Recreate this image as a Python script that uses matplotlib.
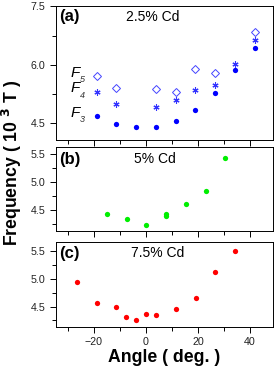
import numpy as np
import matplotlib
matplotlib.use('Agg')
import matplotlib.pyplot as plt
from matplotlib.ticker import MultipleLocator

plt.rcParams['font.family'] = ['Liberation Sans', 'DejaVu Sans']

# (a) 2.5% Cd
ang_a = [-19.0, -11.4, -3.8, 3.8, 11.4, 19.0, 26.6, 34.2, 41.8]
f3_a = [4.69, 4.47, 4.40, 4.40, 4.56, 4.83, 5.27, 5.86, 6.43]
ang_f4 = [-19.0, -11.4, 3.8, 11.4, 19.0, 26.6, 34.2, 41.8]
f4_a = [5.29, 4.98, 4.90, 5.10, 5.35, 5.48, 6.01, 6.63]
ang_f5 = [-19.0, -11.4, 3.8, 11.4, 19.0, 26.6, 41.8]
f5_a = [5.71, 5.40, 5.38, 5.31, 5.89, 5.79, 6.85]

# (b) 5% Cd
ang_b = [-15.1, -7.4, 0.0, 7.7, 7.7, 15.3, 23.0, 30.5]
f_b = [4.43, 4.34, 4.24, 4.43, 4.39, 4.61, 4.84, 5.42]

# (c) 7.5% Cd
ang_c = [-26.5, -19.0, -11.4, -7.6, -3.7, 0.0, 3.8, 11.4, 19.1, 26.7, 34.3]
f_c = [4.95, 4.57, 4.50, 4.32, 4.26, 4.36, 4.34, 4.45, 4.66, 5.12, 5.51]

# F labels in panel a
f_names = ['5', '4', '3']
f_label_y = [5.80, 5.39, 4.75]

W, H = 279, 367
fig = plt.figure(figsize=(W/100, H/100), dpi=100)

def box(top, bottom):
    return [56/W, 1-bottom/H, 217/W, (bottom-top)/H]

axa = fig.add_axes(box(6.5, 140.5))
axb = fig.add_axes(box(147, 231))
axc = fig.add_axes(box(242, 327))

for ax in (axa, axb, axc):
    ax.set_xlim(-34.6, 48.8)
    ax.xaxis.set_major_locator(MultipleLocator(20))
    ax.xaxis.set_minor_locator(MultipleLocator(10))
    ax.tick_params(which='both', direction='out', labelsize=7.7, width=0.7,
                   labelcolor='#222222')
    ax.tick_params(which='major', length=4)
    ax.tick_params(which='minor', length=3)
    for s in ax.spines.values():
        s.set_linewidth(0.7)

axa.tick_params(axis='x', labelbottom=False)
axb.tick_params(axis='x', labelbottom=False)

# panel a
axa.plot(ang_a, f3_a, 'o', color='#0000ff', ms=3.8, mec='none')
axa.plot(ang_f4, f4_a, ls='none', marker=(6, 2, 0), color='#3333ff', ms=4.4, mew=0.8)
axa.plot(ang_f5, f5_a, 'D', mfc='none', mec='#4444ff', ms=3.7, mew=0.7)
axa.set_ylim(4.05, 7.5)
axa.yaxis.set_major_locator(MultipleLocator(1.5))
axa.yaxis.set_minor_locator(MultipleLocator(0.75))
for nm, yy in zip(f_names, f_label_y):
    axa.text(-27.2, yy, 'F', fontsize=11, style='italic', ha='center', va='center')
    axa.text(-24.6, yy - 0.17, nm, fontsize=6.5, style='italic', ha='center', va='center',
             color='#333333')
axa.text(0.015, 0.925, '(a)', transform=axa.transAxes, fontsize=12, fontweight='bold', va='center')
axa.text(0.447, 0.925, '2.5% Cd', transform=axa.transAxes, fontsize=10, ha='center', va='center')

# panel b
axb.plot(ang_b, f_b, 'o', color='#00ee00', ms=3.8, mec='none')
axb.set_ylim(4.125, 5.625)
axb.yaxis.set_major_locator(MultipleLocator(0.5))
axb.yaxis.set_minor_locator(MultipleLocator(0.25))
axb.text(0.015, 0.857, '(b)', transform=axb.transAxes, fontsize=12, fontweight='bold', va='center')
axb.text(0.456, 0.857, '5% Cd', transform=axb.transAxes, fontsize=10, ha='center', va='center')

# panel c
axc.plot(ang_c, f_c, 'o', color='#ff0000', ms=3.8, mec='none')
axc.set_ylim(4.13, 5.67)
axc.yaxis.set_major_locator(MultipleLocator(0.5))
axc.yaxis.set_minor_locator(MultipleLocator(0.25))
axc.text(0.015, 0.867, '(c)', transform=axc.transAxes, fontsize=12, fontweight='bold', va='center')
axc.text(0.47, 0.867, '7.5% Cd', transform=axc.transAxes, fontsize=10, ha='center', va='center')

axc.set_xlabel('Angle ( deg. )', fontsize=12.7, fontweight='bold', labelpad=1)
fig.text(12/W, 1-163/H, 'Frequency ( 10 $^{\\mathbf{3}}$ T )', rotation=90,
         fontsize=12.7, fontweight='bold', ha='center', va='center')

fig.savefig('out.png', dpi=100)
